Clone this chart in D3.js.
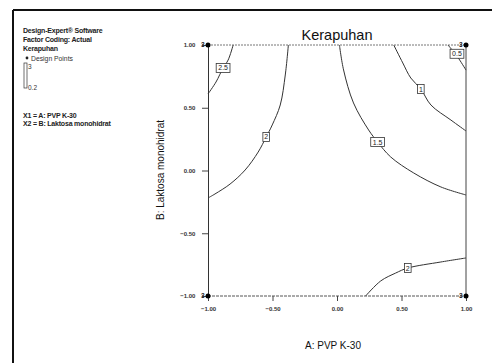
<!DOCTYPE html>
<html>
<head>
<meta charset="utf-8">
<script src="https://cdn.jsdelivr.net/npm/d3@7"></script>
<style>
  body { margin: 0; background: #fff; }
  svg { display: block; font-family: "Liberation Sans", Arial, sans-serif; }
</style>
</head>
<body>
<svg></svg>
<script>
var w = 492, h = 363;

// contour levels and their lines (coded factor units)
var levels = ["2.5", "2", "1.5", "1", "0.5", "2"];
var contourLines = [
  [[-0.805, 1], [-0.844, 0.88], [-0.883, 0.817], [-0.938, 0.705], [-1, 0.61]],
  [[-0.377, 1], [-0.401, 0.761], [-0.44, 0.522], [-0.502, 0.363], [-0.549, 0.267],
   [-0.611, 0.147], [-0.712, 0.004], [-0.829, -0.108], [-0.946, -0.187], [-1, -0.219]],
  [[0.019, 1], [0.051, 0.801], [0.128, 0.538], [0.245, 0.323], [0.315, 0.227],
   [0.416, 0.108], [0.595, -0.02], [0.805, -0.131], [1, -0.195]],
  [[0.44, 1], [0.51, 0.857], [0.572, 0.737], [0.65, 0.649], [0.728, 0.522], [0.883, 0.402], [1, 0.315]],
  [[0.86, 1], [0.93, 0.912], [1, 0.8]],
  [[0.222, -1], [0.339, -0.88], [0.455, -0.817], [0.549, -0.777], [0.805, -0.729], [1, -0.697]]
];
var labelPos = [[-0.883, 0.817], [-0.549, 0.267], [0.315, 0.227], [0.65, 0.649], [0.93, 0.93], [0.549, -0.777]];

// design points (corners, 3 replicates each)
var designX = [-1, 1, -1, 1];
var designY = [1, 1, -1, -1];
var designN = ["3", "3", "3", "3"];

var ticks = [-1, -0.5, 0, 0.5, 1];

var infoLines = ["Design-Expert\u00ae Software", "Factor Coding: Actual", "Kerapuhan"];
var factorLines = ["X1 = A: PVP K-30", "X2 = B: Laktosa monohidrat"];

var svg = d3.select("svg").attr("width", w).attr("height", h);

// page frame
svg.append("line").attr("x1", 13).attr("x2", w).attr("y1", 10).attr("y2", 10)
  .attr("stroke", "#111").attr("stroke-width", 2);
svg.append("line").attr("x1", 13).attr("x2", 13).attr("y1", 10).attr("y2", h)
  .attr("stroke", "#111").attr("stroke-width", 2);

var x = d3.scaleLinear().domain([-1, 1]).range([208, 466]);
var y = d3.scaleLinear().domain([-1, 1]).range([296, 45]);

// plot borders
svg.append("line").attr("x1", x(-1)).attr("x2", x(1)).attr("y1", y(1)).attr("y2", y(1))
  .attr("stroke", "#777").attr("stroke-dasharray", "2,1");
svg.append("line").attr("x1", x(-1)).attr("x2", x(1)).attr("y1", y(-1)).attr("y2", y(-1))
  .attr("stroke", "#555").attr("stroke-dasharray", "3,1");
svg.append("line").attr("x1", x(1)).attr("x2", x(1)).attr("y1", y(1)).attr("y2", y(-1))
  .attr("stroke", "#444");

var xAxis = svg.append("g").attr("transform", "translate(0," + y(-1) + ")")
  .call(d3.axisBottom(x).tickValues(ticks).tickFormat(d3.format(".2f")).tickSize(5).tickSizeOuter(0));
var yAxis = svg.append("g").attr("transform", "translate(" + x(-1) + ",0)")
  .call(d3.axisLeft(y).tickValues(ticks).tickFormat(d3.format(".2f")).tickSize(6).tickSizeOuter(0));
xAxis.select(".domain").remove();
yAxis.select(".domain").attr("stroke", "#333");
[xAxis, yAxis].forEach(function(a) {
  a.selectAll("text").attr("font-size", 6).attr("fill", "#333").attr("font-weight", "bold");
  a.selectAll(".tick line").attr("stroke", "#444");
});
xAxis.selectAll("text").attr("dy", "1.2em");
yAxis.selectAll("text").attr("dx", "-0.6em");

// contours
var line = d3.line().x(function(d) { return x(d[0]); }).y(function(d) { return y(d[1]); })
  .curve(d3.curveCatmullRom);
svg.selectAll("path.contour").data(contourLines).enter().append("path")
  .attr("class", "contour").attr("d", line)
  .attr("fill", "none").attr("stroke", "#333").attr("stroke-width", 1);

var lab = svg.selectAll("g.lab").data(levels).enter().append("g")
  .attr("transform", function(d, i) { return "translate(" + x(labelPos[i][0]) + "," + y(labelPos[i][1]) + ")"; });
lab.append("rect")
  .attr("x", function(d) { return -d.length * 1.8 - 1.5; }).attr("y", -4.5)
  .attr("width", function(d) { return d.length * 3.6 + 3; }).attr("height", 9)
  .attr("fill", "#fff").attr("stroke", "#333").attr("stroke-width", 0.8);
lab.append("text").text(function(d) { return d; })
  .attr("text-anchor", "middle").attr("dy", 2.5).attr("font-size", 7).attr("fill", "#222");

// design points
svg.selectAll("circle.dp").data(designX).enter().append("circle")
  .attr("cx", function(d) { return x(d); }).attr("cy", function(d, i) { return y(designY[i]); })
  .attr("r", 2.5).attr("fill", "#000");
svg.selectAll("text.dn").data(designN).enter().append("text")
  .attr("x", function(d, i) { return x(designX[i]) - 3.5; })
  .attr("y", function(d, i) { return y(designY[i]) + 2.2; })
  .attr("text-anchor", "end").attr("font-size", 6.5).attr("font-weight", "bold").attr("fill", "#222")
  .text(function(d) { return d; });

// titles
svg.append("text").attr("x", 337).attr("y", 40).attr("text-anchor", "middle")
  .attr("font-size", 14.5).attr("fill", "#111").text("Kerapuhan");
svg.append("text").attr("x", 333).attr("y", 349).attr("text-anchor", "middle")
  .attr("font-size", 10).attr("fill", "#111").text("A: PVP K-30");
svg.append("text").attr("transform", "translate(164,170) rotate(-90)").attr("text-anchor", "middle")
  .attr("font-size", 10).attr("fill", "#111").text("B: Laktosa monohidrat");

// info block
svg.selectAll("text.info").data(infoLines).enter().append("text")
  .attr("x", 23).attr("y", function(d, i) { return 33 + i * 8.8; })
  .attr("font-size", 7).attr("font-weight", "bold").attr("fill", "#222")
  .attr("letter-spacing", -0.2)
  .text(function(d) { return d; });
svg.append("circle").attr("cx", 27).attr("cy", 58).attr("r", 1.4).attr("fill", "#222");
svg.append("text").attr("x", 31).attr("y", 60.5).attr("font-size", 6.8).attr("fill", "#333").text("Design Points");
svg.append("rect").attr("x", 24).attr("y", 63).attr("width", 3).attr("height", 25)
  .attr("fill", "#fff").attr("stroke", "#333").attr("stroke-width", 0.7);
svg.append("text").attr("x", 28).attr("y", 69).attr("font-size", 6.5).attr("fill", "#333").text("3");
svg.append("text").attr("x", 28).attr("y", 90).attr("font-size", 6.5).attr("fill", "#333").text("0.2");
svg.selectAll("text.fac").data(factorLines).enter().append("text")
  .attr("x", 23).attr("y", function(d, i) { return 117.5 + i * 8.5; })
  .attr("font-size", 7).attr("font-weight", "bold").attr("fill", "#222")
  .attr("letter-spacing", -0.2)
  .text(function(d) { return d; });
</script>
</body>
</html>
